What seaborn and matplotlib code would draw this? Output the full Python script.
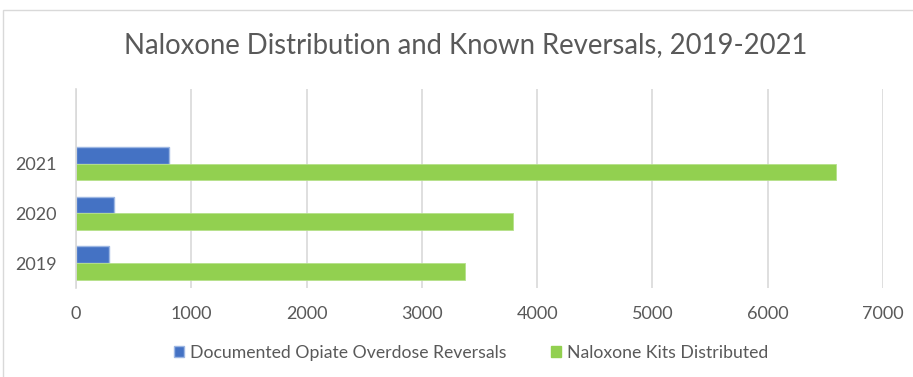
import matplotlib
matplotlib.use("Agg")
import matplotlib.pyplot as plt
import seaborn as sns
import pandas as pd
from matplotlib.patches import Rectangle, Patch

years = ["2021", "2020", "2019"]
reversals = [803, 333, 287]
kits = [6593, 3794, 3370]
series_names = ["Documented Opiate Overdose Reversals", "Naloxone Kits Distributed"]
x_ticks = [0, 1000, 2000, 3000, 4000, 5000, 6000, 7000]
title = "Naloxone Distribution and Known Reversals, 2019-2021"

df = pd.DataFrame({
    "Year": years * 2,
    "Value": reversals + kits,
    "Series": [series_names[0]] * 3 + [series_names[1]] * 3,
})

sns.set_theme(style="white")
plt.rcParams["font.family"] = ["Lato", "DejaVu Sans"]
text_color = "#595959"

fig = plt.figure(figsize=(9.13, 3.77), dpi=100)
ax = fig.add_axes([76 / 913, 1 - 288 / 377, (883 - 76) / 913, (288 - 89) / 377])

colors = ["#4472C4", "#92D050"]
sns.barplot(data=df, y="Year", x="Value", hue="Series", order=years,
            hue_order=series_names, palette=colors, orient="h",
            width=0.67, ax=ax, legend=False, saturation=1)

for bar in ax.patches:
    if bar.get_facecolor()[2] > 0.6:
        bar.set_edgecolor("#9DB7E3")
        bar.set_linewidth(1.0)
    else:
        bar.set_edgecolor("#B5E08A")
        bar.set_linewidth(0.6)

ax.set_ylim(2.5, -1.5)
ax.set_xlim(0, 7000)
ax.set_xticks(x_ticks)
ax.set_xticklabels([str(t) for t in x_ticks], color=text_color, fontsize=13)
ax.tick_params(axis="y", labelsize=13, labelcolor=text_color, length=0, pad=13.7)
ax.tick_params(axis="x", length=0, pad=13)
ax.xaxis.grid(True, color="#D9D9D9", linewidth=1.2)
ax.set_axisbelow(True)
for s in ["top", "right", "bottom"]:
    ax.spines[s].set_visible(False)
ax.spines["left"].set_color("#D9D9D9")
ax.spines["left"].set_linewidth(1.2)
ax.set_xlabel("")
ax.set_ylabel("")

fig.text(466 / 913, 1 - 45 / 377, title, ha="center", va="center",
         fontsize=19.8, color=text_color)

handles = [Patch(facecolor=colors[0], edgecolor="#9DB7E3"),
           Patch(facecolor=colors[1], edgecolor=colors[1])]
fig.legend(handles, series_names, loc="center", bbox_to_anchor=(471 / 913, 1 - 353 / 377),
           ncol=2, frameon=False, fontsize=12.7, labelcolor=text_color,
           handlelength=0.57, handleheight=0.57, handletextpad=0.34, columnspacing=2.55)

fig.patches.append(Rectangle((3 / 913, -0.1), 1.1, 1 - 10 / 377 + 0.1,
                             transform=fig.transFigure, fill=False,
                             edgecolor="#D9D9D9", linewidth=1.0))

fig.savefig("out.png", dpi=100, facecolor="white")
